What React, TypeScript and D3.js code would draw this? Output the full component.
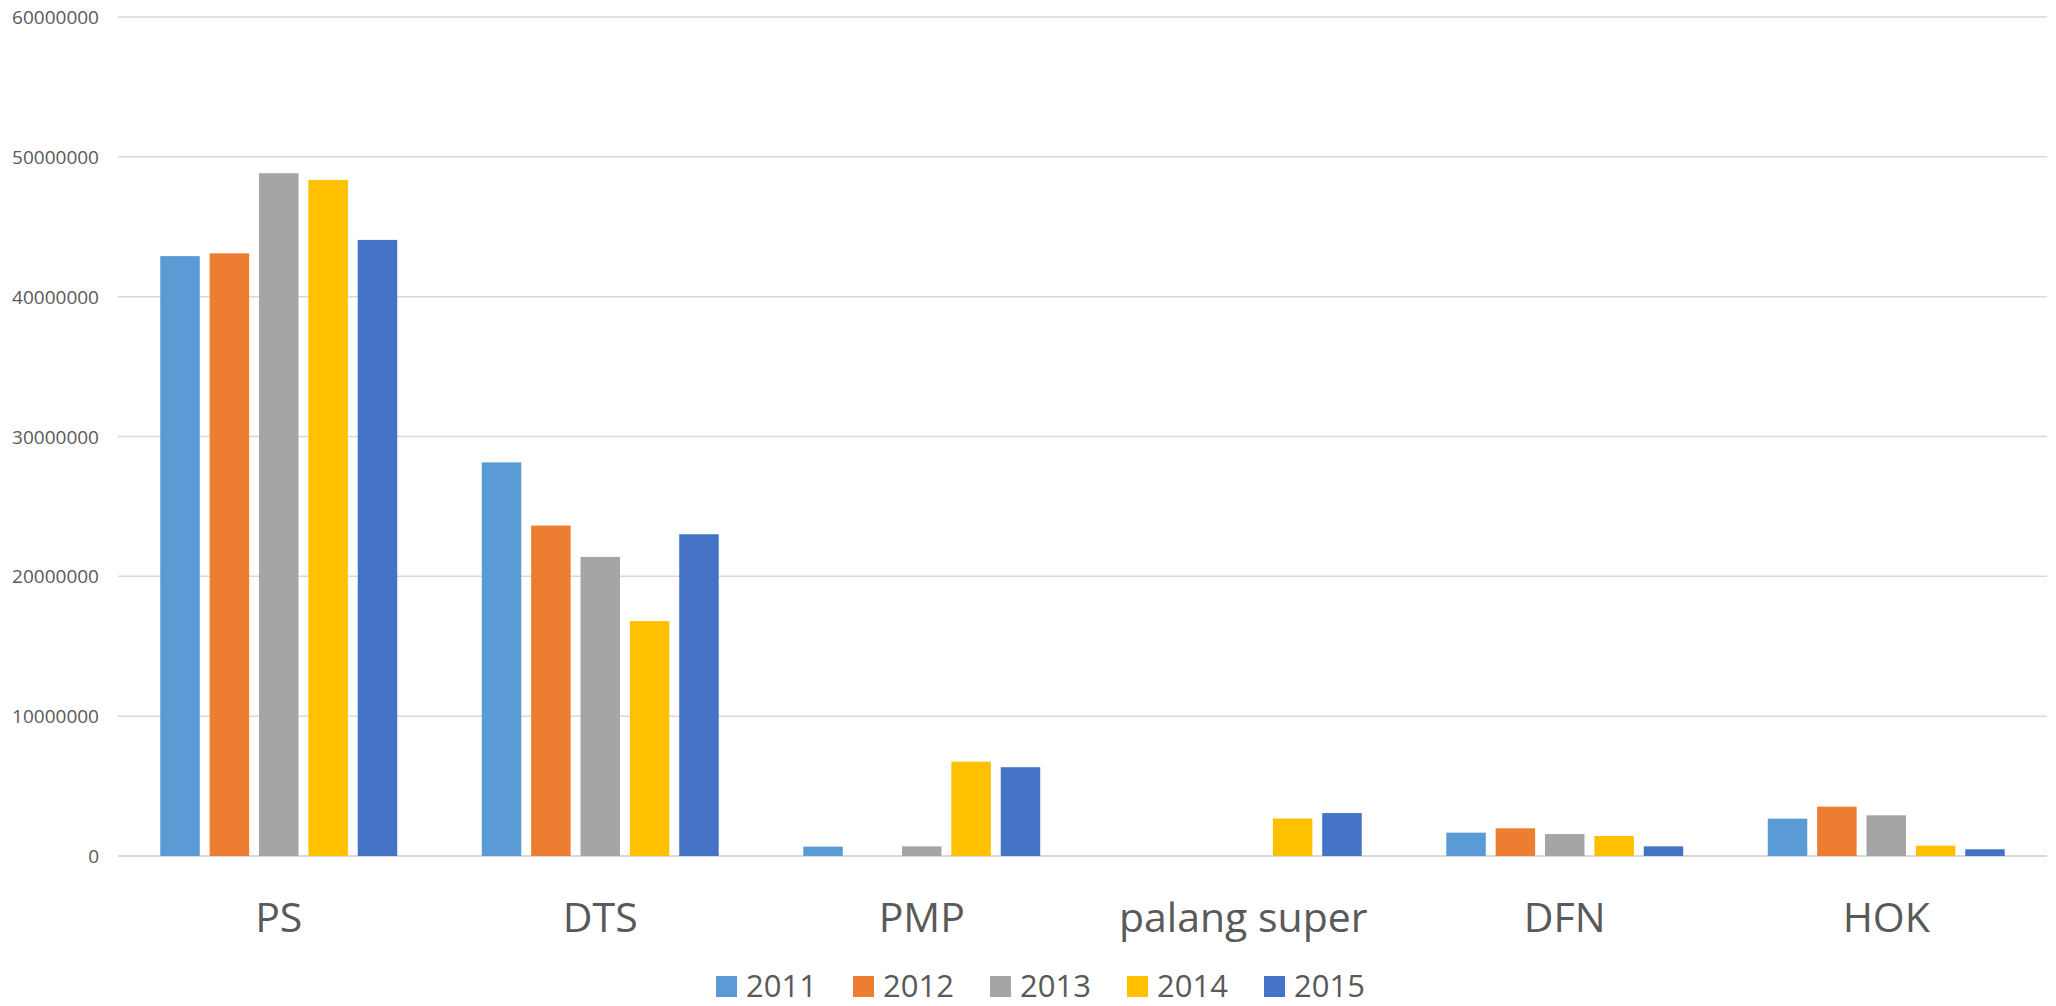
import React, { useEffect, useRef } from 'react';
import * as d3 from 'd3';

const categories = ['PS', 'DTS', 'PMP', 'palang super', 'DFN', 'HOK'];
const years = ['2011', '2012', '2013', '2014', '2015'];
const colors = ['#5B9BD5', '#ED7D31', '#A5A5A5', '#FFC000', '#4472C4'];

// one array per year, same order as categories
const v2011 = [42900000, 28150000, 670000, 0, 1670000, 2670000];
const v2012 = [43100000, 23630000, 0, 0, 1980000, 3530000];
const v2013 = [48830000, 21390000, 690000, 0, 1570000, 2910000];
const v2014 = [48350000, 16800000, 6750000, 2680000, 1430000, 740000];
const v2015 = [44060000, 23010000, 6350000, 3070000, 690000, 480000];
const yTicks = [0, 10000000, 20000000, 30000000, 40000000, 50000000, 60000000];

const App = () => {
  const chartRef = useRef<SVGSVGElement>(null);

  useEffect(() => {
    const series = [v2011, v2012, v2013, v2014, v2015];
    const width = 2056;
    const height = 1006;
    const left = 118;
    const right = 2047;
    const top = 17;
    const bottom = 856;
    const font = '"Open Sans", "Noto Sans", sans-serif';

    const svg = d3.select(chartRef.current);
    svg.selectAll('*').remove();
    svg.attr('width', width).attr('height', height);

    const x = d3.scaleBand().domain(categories).range([left, right]).paddingInner(0.263).paddingOuter(0.1315);
    const xInner = d3.scaleBand().domain(years).range([0, x.bandwidth()]).paddingInner(0.2).paddingOuter(0);
    const y = d3.scaleLinear().domain([0, 60000000]).range([bottom, top]);

    // gridlines
    svg
      .append('g')
      .selectAll('line')
      .data(yTicks)
      .enter()
      .append('line')
      .attr('x1', left)
      .attr('x2', right)
      .attr('y1', (d) => y(d))
      .attr('y2', (d) => y(d))
      .attr('stroke', '#d9d9d9')
      .attr('stroke-width', (d) => (d === 0 ? 2 : 1.5));

    // y tick labels
    svg
      .append('g')
      .selectAll('text')
      .data(yTicks)
      .enter()
      .append('text')
      .attr('x', 99)
      .attr('y', (d) => y(d) + 7)
      .attr('text-anchor', 'end')
      .attr('font-family', font)
      .attr('font-size', 19)
      .attr('fill', '#595959')
      .text((d) => `${d}`);

    // bars
    const groups = svg
      .append('g')
      .selectAll('g')
      .data(series)
      .enter()
      .append('g')
      .attr('fill', (_, i) => colors[i]);

    groups
      .selectAll('rect')
      .data((vals, i) => vals.map((v, j) => ({ year: years[i], cat: categories[j], value: v })))
      .enter()
      .filter((d) => d.value > 0)
      .append('rect')
      .attr('x', (d) => x(d.cat)! + xInner(d.year)!)
      .attr('y', (d) => y(d.value))
      .attr('width', xInner.bandwidth())
      .attr('height', (d) => y(0) - y(d.value));

    // category labels
    svg
      .append('g')
      .selectAll('text')
      .data(categories)
      .enter()
      .append('text')
      .attr('x', (d) => x(d)! + x.bandwidth() / 2)
      .attr('y', 932)
      .attr('text-anchor', 'middle')
      .attr('font-family', font)
      .attr('font-size', 41)
      .attr('fill', '#595959')
      .text((d) => d);

    // legend
    const step = 137;
    const legendStart = 716;
    const legend = svg
      .append('g')
      .selectAll('g')
      .data(years)
      .enter()
      .append('g')
      .attr('transform', (_, i) => `translate(${legendStart + i * step},0)`);
    legend
      .append('rect')
      .attr('x', 0)
      .attr('y', 976)
      .attr('width', 21)
      .attr('height', 21)
      .attr('fill', (_, i) => colors[i]);
    legend
      .append('text')
      .attr('x', 30)
      .attr('y', 997)
      .attr('font-family', font)
      .attr('font-size', 31)
      .attr('fill', '#595959')
      .text((d) => d);
  }, []);

  return (
    <svg ref={chartRef} style={{ position: 'absolute', left: 0, top: 0, background: '#fff' }} />
  );
};

export default App;
